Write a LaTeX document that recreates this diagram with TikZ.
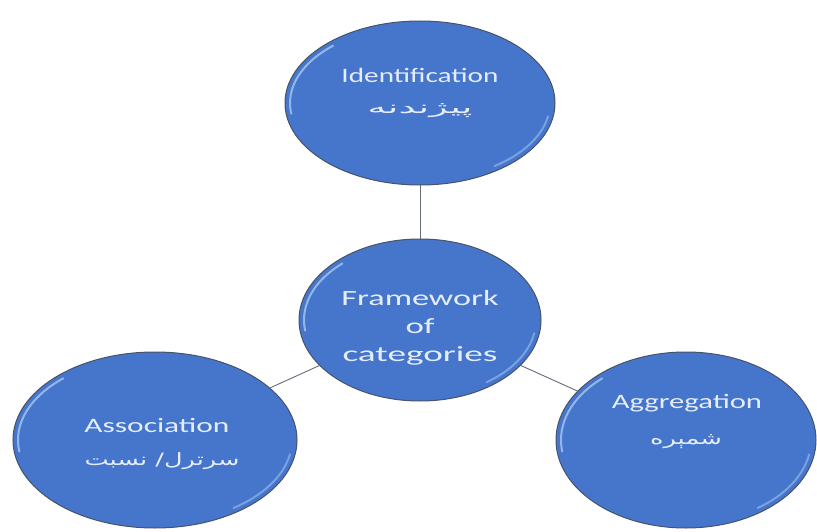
\documentclass[tikz,border=0pt]{standalone}
\usepackage{fontspec}
\setmainfont{Carlito}
\newfontfamily\arabicfont[Script=Arabic]{DejaVu Sans}
\TeXXeTstate=1
\usetikzlibrary{shapes.geometric}
\definecolor{ellfill}{RGB}{70,118,204}
\definecolor{elldraw}{RGB}{72,82,104}
\definecolor{txtcol}{RGB}{230,237,250}
\definecolor{linkcol}{RGB}{100,108,120}
\definecolor{hilite}{RGB}{175,205,245}
\newcommand{\wfit}[2]{\resizebox{#1}{\height}{#2}}
\begin{document}
\begin{tikzpicture}[x=1pt,y=-1pt,
  bubble/.style={ellipse, draw=elldraw, line width=1pt, fill=ellfill, inner sep=0pt, outer sep=0pt},
  lbl/.style={text=txtcol, font=\fontsize{20.5}{24}\selectfont, inner sep=0pt, anchor=base},
  biglbl/.style={text=txtcol, font=\fontsize{21.7}{26}\selectfont, inner sep=0pt, anchor=base},
  plbl/.style={text=txtcol, font=\arabicfont\fontsize{17}{22}\selectfont, inner sep=0pt, anchor=center},
  link/.style={draw=linkcol, line width=0.9pt},
  shine/.style={draw=hilite, line width=2pt, line cap=round, opacity=0.75}]
\useasboundingbox (0,0) rectangle (817,532);

\node[bubble, minimum width=270pt, minimum height=164pt] (ident) at (420,103) {};
\node[bubble, minimum width=242pt, minimum height=162pt] (frame) at (420,320) {};
\node[bubble, minimum width=284pt, minimum height=176pt] (assoc) at (155,440) {};
\node[bubble, minimum width=260pt, minimum height=176pt] (aggr) at (686,440) {};

\draw[link] (ident) -- (frame);
\draw[link] (frame) -- (assoc);
\draw[link] (frame) -- (aggr);

% bevel highlights
\foreach \cx/\cy/\rx/\ry in {420/103/130/77, 420/320/116/76, 155/440/137/83, 686/440/125/83}{
  \draw[shine] ({\cx+\rx*cos(172)},{\cy+\ry*sin(172)}) arc[start angle=172, end angle=228, x radius=\rx, y radius=\ry];
  \draw[shine, opacity=0.5] ({\cx+\rx*cos(10)},{\cy+\ry*sin(10)}) arc[start angle=10, end angle=55, x radius=\rx, y radius=\ry];
}

% texts
\node[lbl] (identT) at (420,83) {\wfit{157pt}{Identification}};
\node[plbl] (identP) at (420,111) {\wfit{105pt}{\beginR پیژندنه\endR}};

\node[biglbl] (frameA) at (420,305) {\wfit{157pt}{Framework}};
\node[biglbl] (frameB) at (420,333) {\wfit{29pt}{of}};
\node[biglbl] (frameC) at (420,361.5) {\wfit{155pt}{categories}};

\node[lbl] (assocT) at (157,432.5) {\wfit{145pt}{Association}};
\node[plbl] (assocP) at (162,461) {\wfit{155pt}{\beginR سرترل/ نسبت\endR}};

\node[lbl] (aggrT) at (687,408) {\wfit{150pt}{Aggregation}};
\node[plbl] (aggrP) at (686,442) {\wfit{72pt}{\beginR شمېره\endR}};
\end{tikzpicture}
\end{document}
